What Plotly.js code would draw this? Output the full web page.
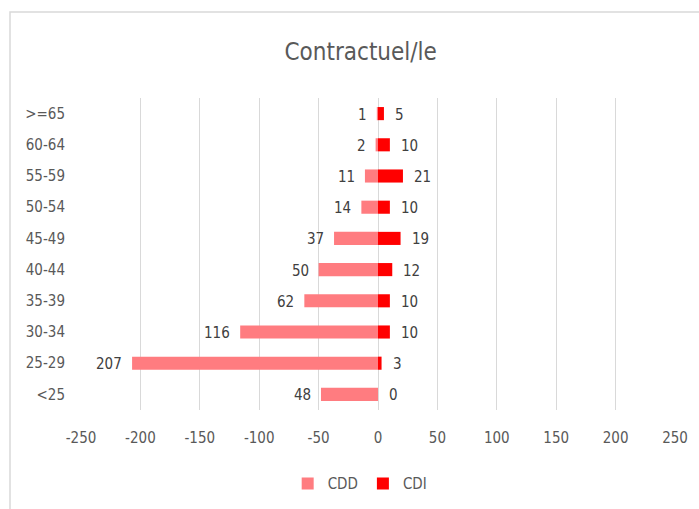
<!DOCTYPE html>
<html>
<head>
<meta charset="utf-8">
<script src="https://cdn.plot.ly/plotly-3.0.1.min.js"></script>
<style>html,body{margin:0;padding:0;background:#fff;}#chart{width:699px;height:509px;}</style>
</head>
<body>
<div id="chart"></div>
<script>
var categories = ['<25', '25-29', '30-34', '35-39', '40-44', '45-49', '50-54', '55-59', '60-64', '>=65'];
var cdd = [48, 207, 116, 62, 50, 37, 14, 11, 2, 1];
var cdi = [0, 3, 10, 10, 12, 19, 10, 21, 10, 5];
var xTicks = [-250, -200, -150, -100, -50, 0, 50, 100, 150, 200, 250];

var FONT = 'DejaVu Sans Condensed, Liberation Sans Narrow, sans-serif';

var cddNeg = cdd.map(function (v) { return -v; });

var traces = [
  {
    type: 'bar', orientation: 'h', name: 'CDD',
    y: categories, x: cddNeg, width: 0.42,
    marker: { color: '#FF7C80' }, hoverinfo: 'skip'
  },
  {
    type: 'bar', orientation: 'h', name: 'CDI',
    y: categories, x: cdi, width: 0.42,
    marker: { color: '#FF0000' }, hoverinfo: 'skip'
  }
];

var annotations = [];
categories.forEach(function (c, i) {
  annotations.push({
    x: cddNeg[i], y: c, xref: 'x', yref: 'y', text: String(cdd[i]),
    showarrow: false, xanchor: 'right', xshift: -8, yshift: -1,
    font: { family: FONT, size: 15, color: '#404040' }
  });
  annotations.push({
    x: cdi[i], y: c, xref: 'x', yref: 'y', text: String(cdi[i]),
    showarrow: false, xanchor: 'left', xshift: 9, yshift: -1,
    font: { family: FONT, size: 15, color: '#404040' }
  });
});

var layout = {
  width: 699, height: 509,
  margin: { l: 81, r: 24, t: 98, b: 99, autoexpand: false },
  paper_bgcolor: '#ffffff', plot_bgcolor: '#ffffff',
  font: { family: FONT, color: '#595959' },
  title: {
    text: 'Contractuel/le', x: 0.516, xanchor: 'center',
    y: 1 - 52 / 509, yanchor: 'middle', yref: 'container',
    font: { family: FONT, size: 24, color: '#595959' }
  },
  barmode: 'overlay',
  xaxis: {
    range: [-250, 250], tickvals: xTicks, ticktext: xTicks.map(String),
    showgrid: true, gridcolor: '#d9d9d9', gridwidth: 1,
    zeroline: false, showline: false,
    ticks: 'outside', ticklen: 14, tickcolor: 'rgba(0,0,0,0)',
    tickfont: { family: FONT, size: 15, color: '#595959' },
    fixedrange: true
  },
  yaxis: {
    type: 'category', categoryorder: 'array', categoryarray: categories,
    showgrid: false, zeroline: false, showline: false,
    ticks: 'outside', ticklen: 12, tickcolor: 'rgba(0,0,0,0)',
    tickfont: { family: FONT, size: 15, color: '#595959' },
    fixedrange: true
  },
  showlegend: true,
  legend: {
    orientation: 'h', x: 0.47, xanchor: 'center', y: -0.236, yanchor: 'middle',
    font: { family: FONT, size: 15, color: '#595959' },
    itemwidth: 30, tracegroupgap: 0
  },
  annotations: annotations,
  shapes: [{
    type: 'rect', xref: 'paper', yref: 'paper',
    x0: (10 - 81) / 594, x1: 1.2,
    y0: -0.5, y1: 1 + (98 - 12) / 312,
    line: { color: '#d9d9d9', width: 1.5 }, fillcolor: 'rgba(0,0,0,0)', layer: 'below'
  }]
};

Plotly.newPlot('chart', traces, layout, { displayModeBar: false, staticPlot: true });
</script>
</body>
</html>
